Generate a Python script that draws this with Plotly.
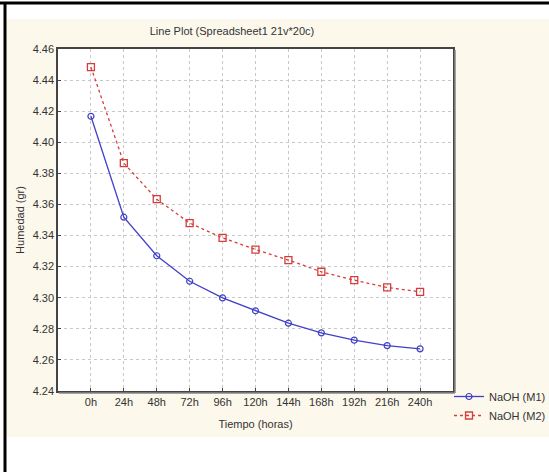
import plotly.graph_objects as go

categories = ["0h", "24h", "48h", "72h", "96h", "120h", "144h", "168h", "192h", "216h", "240h"]
m1_values = [4.4167, 4.3518, 4.3270, 4.3106, 4.2999, 4.2916, 4.2836, 4.2774, 4.2727, 4.2692, 4.2671]
m2_values = [4.4484, 4.3866, 4.3634, 4.3480, 4.3385, 4.3310, 4.3242, 4.3167, 4.3113, 4.3066, 4.3038]
series_names = ["NaOH (M1)", "NaOH (M2)"]
y_ticks = [4.24, 4.26, 4.28, 4.30, 4.32, 4.34, 4.36, 4.38, 4.40, 4.42, 4.44, 4.46]

W, H = 549, 472
L, R, T, B = 58, 453, 49, 391  # plot area in pixels
PW, PH = R - L, B - T

def px(x):
    return (x - L) / PW

def py(y):
    return (B - y) / PH

FONT = "Liberation Sans, Arial, sans-serif"
TXT = "#333333"
BLUE = "#4040c8"
RED = "#d63c3c"

fig = go.Figure()
fig.add_trace(go.Scatter(
    x=categories, y=m1_values, name=series_names[0], mode="lines+markers",
    line=dict(color=BLUE, width=1.3),
    marker=dict(symbol="circle-open", size=6, color=BLUE, line=dict(width=1.2, color=BLUE)),
))
fig.add_trace(go.Scatter(
    x=categories, y=m2_values, name=series_names[1], mode="lines+markers",
    line=dict(color=RED, width=1.3, dash="3px,3px"),
    marker=dict(symbol="square-open", size=7, color=RED, line=dict(width=1.3, color=RED)),
))

shapes = [
    # cream panel
    dict(type="rect", xref="paper", yref="paper", x0=px(6), x1=px(549), y0=py(437), y1=py(19),
         fillcolor="#fcf8ec", line=dict(width=0), layer="below"),
    # white plotting box
    dict(type="rect", xref="paper", yref="paper", x0=0, x1=1, y0=0, y1=1,
         fillcolor="white", line=dict(width=0), layer="below"),
    # black frame lines
    dict(type="line", xref="paper", yref="paper", x0=px(0), x1=px(549), y0=py(3), y1=py(3),
         line=dict(color="black", width=3)),
    dict(type="line", xref="paper", yref="paper", x0=px(5), x1=px(5), y0=py(2), y1=py(472),
         line=dict(color="black", width=3)),
    # box shadow bottom/right
    dict(type="line", xref="paper", yref="paper", x0=px(L + 1), x1=px(R + 2), y0=py(B + 2), y1=py(B + 2),
         line=dict(color="#888888", width=1.5)),
    dict(type="line", xref="paper", yref="paper", x0=px(R + 2), x1=px(R + 2), y0=py(T + 1), y1=py(B + 2),
         line=dict(color="#888888", width=1.5)),
]

fig.update_layout(
    width=W, height=H,
    margin=dict(l=L, r=W - R, t=T, b=H - B, autoexpand=False),
    paper_bgcolor="white",
    plot_bgcolor="rgba(0,0,0,0)",
    font=dict(family=FONT, size=11, color=TXT),
    title=dict(text="Line Plot (Spreadsheet1 21v*20c)", x=232 / W, xanchor="center",
               y=1 - 31 / H, yanchor="middle", font=dict(size=11, color=TXT)),
    shapes=shapes,
    showlegend=True,
    legend=dict(x=px(449), y=py(382), xanchor="left", yanchor="top",
                bgcolor="rgba(0,0,0,0)", font=dict(size=11, color=TXT),
                itemwidth=30, tracegroupgap=0),
)

fig.update_xaxes(
    type="category", range=[-1, 11], showgrid=True, gridcolor="#c8c8c8", griddash="dot", gridwidth=1,
    showline=True, linecolor="#444444", linewidth=1.5, mirror=True,
    ticks="inside", ticklen=3, tickcolor="#444444",
    title=dict(text="Tiempo (horas)", font=dict(size=11, color=TXT), standoff=13),
    tickfont=dict(size=11, color=TXT), zeroline=False,
)
fig.update_yaxes(
    range=[4.24, 4.46], tickvals=y_ticks, ticktext=[f"{v:.2f}" for v in y_ticks],
    showgrid=True, gridcolor="#c8c8c8", griddash="dot", gridwidth=1,
    showline=True, linecolor="#444444", linewidth=1.5, mirror=True,
    ticks="inside", ticklen=3, tickcolor="#444444",
    title=dict(text="Humedad (gr)", font=dict(size=11, color=TXT), standoff=6),
    tickfont=dict(size=11, color=TXT), zeroline=False,
)

fig.write_html("out.html")
